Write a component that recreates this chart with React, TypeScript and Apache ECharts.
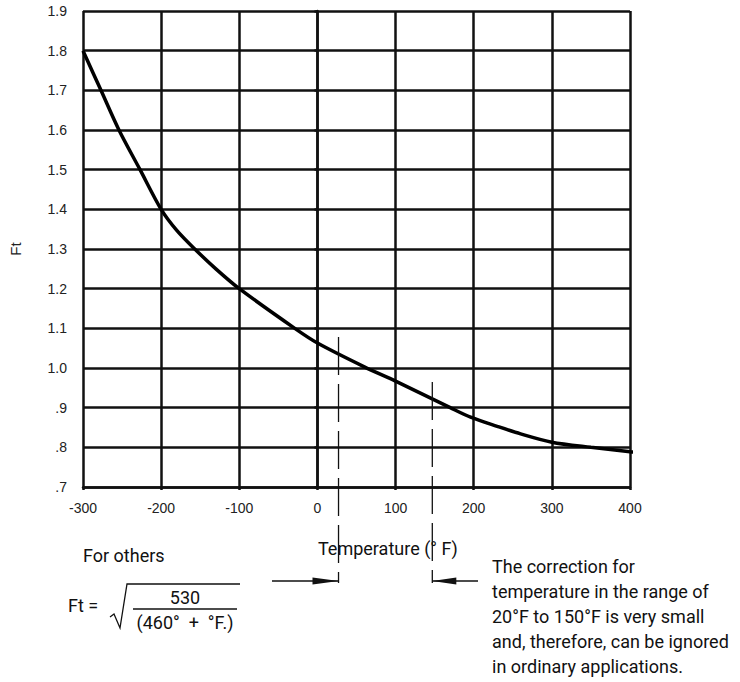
import React, { useEffect, useRef } from "react";
import * as echarts from "echarts";

const tempF = [-300, -277, -254, -227, -200, -180, -157, -130, -100, -29, 0, 60, 100, 170, 196, 230, 260, 300, 350, 400, 412];
const ftValues = [1.8, 1.7, 1.6, 1.5, 1.4, 1.347, 1.3, 1.25, 1.2, 1.1, 1.063, 1.003, 0.967, 0.9, 0.876, 0.853, 0.834, 0.813, 0.8, 0.789, 0.786];
const yTickLabels = [".7", ".8", ".9", "1.0", "1.1", "1.2", "1.3", "1.4", "1.5", "1.6", "1.7", "1.8", "1.9"];
const rangeMarks = [27, 147];
const rangeTops = [1.078, 0.965];
const noteLines = [
  "The correction for",
  "temperature in the range of",
  "20°F to 150°F is very small",
  "and, therefore, can be ignored",
  "in ordinary applications.",
];

const NARROW = "'Roboto', sans-serif";
const TICKFONT = "'Liberation Sans', 'DejaVu Sans', sans-serif";

export default function App() {
  const ref = useRef<HTMLDivElement>(null);
  useEffect(() => {
    if (!ref.current) return;
    const chart = echarts.init(ref.current, undefined, { renderer: "svg" });
    const lineStyle = { color: "#111", width: 2.5 };
    const option: any = {
      animation: false,
      backgroundColor: "#fff",
      grid: { left: 79, right: 110, top: 11, bottom: 195, containLabel: false },
      xAxis: {
        type: "value",
        min: -300,
        max: 400,
        interval: 100,
        axisLine: { show: true, lineStyle },
        axisTick: { show: true, length: 3, lineStyle },
        splitLine: { show: true, lineStyle },
        axisLabel: {
          margin: 14,
          color: "#222",
          fontSize: 14,
          fontFamily: TICKFONT,
          formatter: (v: number) => (v < 0 ? "-" + Math.abs(v) : String(v)),
        },
      },
      yAxis: {
        type: "value",
        min: 0.7,
        max: 1.9,
        interval: 0.1,
        name: "Ft",
        nameLocation: "middle",
        nameGap: 60,
        nameRotate: 90,
        nameTextStyle: { color: "#222", fontSize: 15, fontFamily: TICKFONT },
        axisLine: { show: true, lineStyle },
        axisTick: { show: true, length: 3, lineStyle },
        splitLine: { show: true, lineStyle },
        axisLabel: {
          margin: 16,
          color: "#222",
          fontSize: 14,
          fontFamily: TICKFONT,
          formatter: (v: number) => yTickLabels[Math.round((v - 0.7) * 10)] ?? "",
        },
      },
      series: [
        {
          type: "line",
          data: tempF.map((t, i) => [t, ftValues[i]]),
          smooth: 0.3,
          showSymbol: false,
          clip: false,
          lineStyle: { color: "#000", width: 3.5 },
          z: 5,
        },
      ],
    };
    chart.setOption(option);

    const px = (x: number, y: number) => chart.convertToPixel({ gridIndex: 0 }, [x, y]) as number[];
    const graphics: any[] = [];
    const dashBottom = 583;
    rangeMarks.forEach((m, i) => {
      const p = px(m, rangeTops[i]);
      graphics.push({
        type: "line",
        shape: { x1: p[0], y1: p[1], x2: p[0], y2: dashBottom },
        style: { stroke: "#111", lineWidth: 1.3, lineDash: [38, 9] },
        z: 10,
      });
    });
    const a1 = px(rangeMarks[0], 1)[0];
    const a2 = px(rangeMarks[1], 1)[0];
    const ay = 581;
    graphics.push({ type: "line", shape: { x1: 272, y1: ay, x2: a1, y2: ay }, style: { stroke: "#111", lineWidth: 1.3 } });
    graphics.push({ type: "polygon", shape: { points: [[a1, ay], [a1 - 26, ay - 3.5], [a1 - 26, ay + 3.5]] }, style: { fill: "#111" } });
    graphics.push({ type: "line", shape: { x1: a2, y1: ay, x2: 478, y2: ay }, style: { stroke: "#111", lineWidth: 1.3 } });
    graphics.push({ type: "polygon", shape: { points: [[a2, ay], [a2 + 24, ay - 3.5], [a2 + 24, ay + 3.5]] }, style: { fill: "#111" } });

    const txt = (text: string, x: number, y: number, opts: any = {}) => ({
      type: "text",
      x,
      y,
      style: {
        text,
        fill: "#111",
        font: `${opts.size ?? 18}px ${NARROW}`,
        textAlign: opts.align ?? "left",
        textVerticalAlign: "middle",
      },
      z: 20,
    });
    graphics.push(txt("Temperature (° F)", 318, 548));
    graphics.push(txt("For others", 83, 555));
    graphics.push(txt("Ft =", 68, 605));
    graphics.push({
      type: "polyline",
      shape: { points: [[110, 617], [114, 614], [120, 628], [127, 584], [240, 584]] },
      style: { stroke: "#111", lineWidth: 1.3, fill: null },
    });
    graphics.push(txt("530", 185, 597, { align: "center" }));
    graphics.push({ type: "line", shape: { x1: 133, y1: 609, x2: 237, y2: 609 }, style: { stroke: "#111", lineWidth: 1.3 } });
    graphics.push(txt("(460°  +  °F.)", 185, 622, { align: "center" }));
    noteLines.forEach((l, i) => graphics.push(txt(l, 492, 566 + i * 25)));

    chart.setOption({ graphic: graphics });
    return () => chart.dispose();
  }, []);
  return <div ref={ref} style={{ position: "fixed", left: 0, top: 0, width: 740, height: 682 }} />;
}
